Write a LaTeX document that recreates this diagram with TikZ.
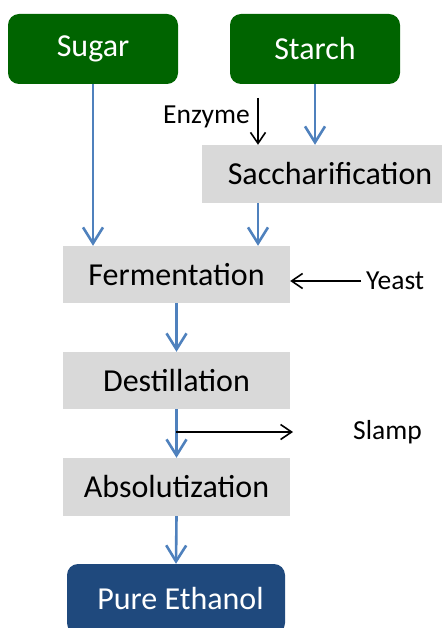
\documentclass[tikz,border=0pt]{standalone}
\usepackage{fontspec}
\setmainfont{Carlito}
\usetikzlibrary{arrows.meta}
\definecolor{boxgreen}{RGB}{0,100,0}
\definecolor{boxblue}{RGB}{31,73,125}
\definecolor{boxgray}{RGB}{217,217,217}
\definecolor{flowblue}{RGB}{79,129,189}
\tikzset{
  srcbox/.style={fill=boxgreen, rounded corners=11pt, text=white, minimum width=170pt, minimum height=70pt, inner sep=0pt, font=\fontsize{32}{36}\selectfont},
  procbox/.style={fill=boxgray, text=black, minimum width=227pt, minimum height=57pt, inner sep=0pt, font=\fontsize{32}{36}\selectfont},
  endbox/.style={fill=boxblue, rounded corners=11pt, text=white, minimum width=218pt, minimum height=70pt, inner sep=0pt, font=\fontsize{32}{36}\selectfont},
  lbl/.style={inner sep=1pt, font=\fontsize{27.5}{30}\selectfont},
  flow/.style={draw=flowblue, line width=2.6pt, -{Straight Barb[length=16pt, width=20pt, line width=2.6pt]}},
  feed/.style={draw=black, line width=1.6pt, -{Straight Barb[length=11pt, width=15pt, line width=1.6pt]}}
}
\begin{document}
\begin{tikzpicture}[x=1pt, y=-1pt]
\useasboundingbox (0,0) rectangle (441,628);
\node[srcbox] (sugar) at (93,49) {Sugar\hspace{16pt}};
\node[srcbox] (starch) at (315,49) {Starch};
\node[procbox, minimum width=256pt, minimum height=58pt] (sacch) at (330,174) {Saccharification};
\node[procbox] (ferm) at (176.5,274.5) {Fermentation};
\node[procbox] (dest) at (176.5,380.5) {Destillation};
\node[procbox, minimum height=58pt] (abs) at (176.5,487) {Absolutization};
\node[endbox] (pure) at (176,599) {\hspace{9pt}Pure Ethanol};

\coordinate (enz) at (258,98);
\node[lbl, anchor=east] (enzyme) at (251,117) {Enzyme};
\node[lbl, anchor=west, inner xsep=5pt] (yeast) at (361,281) {Yeast};
\node[lbl, anchor=west] (slamp) at (352,432) {Slamp};
\coordinate (slampstart) at (176,432);
\coordinate (slampend) at (293,432);

\draw[flow] (sugar.south) -- (sugar.south |- ferm.north);
\draw[flow] (starch.south) -- (starch.south |- sacch.north);
\draw[flow] (enz |- sacch.south) -- (enz |- ferm.north);
\draw[flow] (ferm.south) -- (dest.north);
\draw[flow] (dest.south) -- (abs.north);
\draw[flow] (abs.south) -- (pure.north);

\draw[feed] (enz) -- (enz |- sacch.north);
\draw[feed] (yeast.west) -- (ferm.east |- yeast.west);
\draw[feed] (slampstart) -- (slampend);
\end{tikzpicture}
\end{document}
